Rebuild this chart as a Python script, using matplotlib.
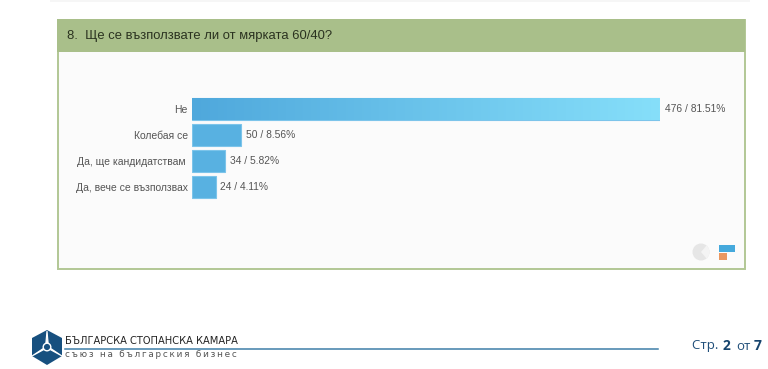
import numpy as np
import matplotlib
matplotlib.use('Agg')
import matplotlib.pyplot as plt
from matplotlib.patches import Rectangle, Polygon, Circle, Wedge
from matplotlib.transforms import ScaledTranslation

W, H = 768, 369

categories = ['Не', 'Колебая се', 'Да, ще кандидатствам', 'Да, вече се възползвах']
counts = [476, 50, 34, 24]
percents = [81.51, 8.56, 5.82, 4.11]

title = '8.  Ще се възползвате ли от мярката 60/40?'
logo_top = 'БЪЛГАРСКА СТОПАНСКА КАМАРА'
logo_sub = 'съюз на българския бизнес'

plt.rcParams['font.family'] = ['Liberation Sans', 'DejaVu Sans']


def px_axes(fig, x0, y0, x1, y1):
    # pixel box with y measured from the top
    return fig.add_axes([x0 / W, 1 - y1 / H, (x1 - x0) / W, (y1 - y0) / H])


fig = plt.figure(figsize=(W / 100, H / 100), dpi=100, facecolor='white')

# page layer in pixel coordinates
bg = fig.add_axes([0, 0, 1, 1])
bg.set_xlim(0, W)
bg.set_ylim(H, 0)
bg.axis('off')

bg.add_patch(Rectangle((50, 0), 700, 1.5, fc='#f6f6f6', ec='none'))
bg.add_patch(Rectangle((57.5, 20), 687, 249, fc='#fbfbfb', ec='#b2c795', lw=1.4))
bg.add_patch(Rectangle((57, 19), 688, 33, fc='#a9bf8a', ec='none'))
bg.text(67, 35.5, title, fontsize=9.4, color='#2b3320', va='center', ha='left')

# pie / bar icons bottom right
bg.add_patch(Circle((701, 252), 8.5, fc='#e6e6e6', ec='none'))
bg.add_patch(Wedge((701, 252), 8.5, -50, 50, fc='#f4f4f4', ec='none'))
bg.add_patch(Rectangle((719, 245), 16, 6.5, fc='#45a9dc', ec='none'))
bg.add_patch(Rectangle((719, 253), 8, 6.5, fc='#ea9760', ec='none'))

# logo
hex_x = [47, 62, 62, 47, 32, 32]
hex_y = [330, 338, 356, 365, 356, 338]
bg.add_patch(Polygon(np.column_stack([hex_x, hex_y]), fc='#17507f', ec='none'))
for tip in [(47, 331), (62, 356), (32, 356)]:
    bg.add_patch(Polygon([(45.5, 347), (48.5, 347), tip], fc='white', ec='white', lw=0.8))
bg.add_patch(Circle((47, 347), 3.8, fc='#17507f', ec='white', lw=1))
bg.text(65, 340.5, logo_top, fontsize=7.9, color='#222222', va='center', ha='left',
        family=['DejaVu Sans'], stretch='condensed')
bg.plot([65, 658], [348.5, 348.5], color='#3f7fa8', lw=1.1)
# the sub line is letterspaced in the logo
bg.text(65, 354.5, '\u2009'.join(logo_sub), fontsize=6.4, color='#555555', va='center', ha='left',
        family=['DejaVu Sans'])

# footer page number
bg.text(692, 349.5, 'Стр. ', fontsize=9.5, color='#1f4e79', va='baseline', ha='left', family=['Open Sans'])
bg.text(723, 349.5, '2', fontsize=10, color='#17456e', va='baseline', ha='left', family=['Open Sans'], weight='bold')
bg.text(736, 349.5, 'от', fontsize=9.5, color='#1f4e79', va='baseline', ha='left', family=['Open Sans'])
bg.text(754, 349.5, '7', fontsize=10, color='#17456e', va='baseline', ha='left', family=['Open Sans'], weight='bold')

# bar chart
ax = px_axes(fig, 192, 95.5, 660, 200.5)
ax.patch.set_alpha(0)
y = np.arange(len(categories))
bars = ax.barh(y, counts, height=0.84, color='#58b1e1', edgecolor='#7cc4ea', linewidth=0.8)
ax.set_xlim(0, counts[0])
ax.set_ylim(len(categories) - 0.5, -0.5)
ax.set_yticks(y, categories)
ax.tick_params(axis='y', length=0, pad=3, labelsize=7.5, labelcolor='#555555')
ax.set_xticks([])
for s in ax.spines.values():
    s.set_visible(False)

# this label sits a bit further left in the original
lab = ax.get_yticklabels()[2]
lab.set_transform(lab.get_transform() + ScaledTranslation(-2.5 / 100, 0, fig.dpi_scale_trans))

# gradient on the longest bar
grad = np.linspace(0, 1, 256).reshape(1, -1)
cmap = matplotlib.colors.LinearSegmentedColormap.from_list('bar', ['#4fa8dc', '#86dffa'])
im = ax.imshow(grad, extent=(0, counts[0], 0.42, -0.42), aspect='auto', cmap=cmap, zorder=2)
im.set_clip_path(bars[0])
ax.set_xlim(0, counts[0])
ax.set_ylim(len(categories) - 0.5, -0.5)

for yi, c, p in zip(y, counts, percents):
    ax.annotate(f'{c} / {p:.2f}%', (c, yi), xytext=(3.4, 0), textcoords='offset points',
                va='center', ha='left', fontsize=7.4, color='#555555', annotation_clip=False)

fig.savefig('out.png', dpi=100)
